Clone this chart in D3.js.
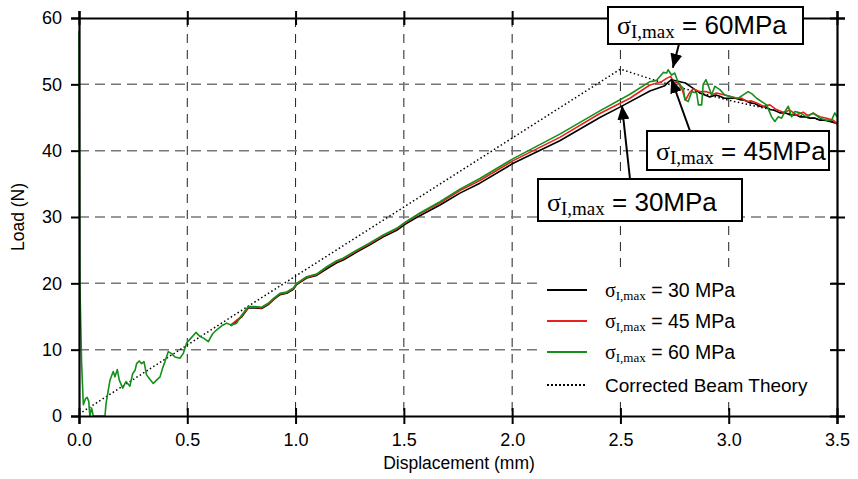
<!DOCTYPE html>
<html>
<head>
<meta charset="utf-8">
<script src="https://cdn.jsdelivr.net/npm/d3@7"></script>
<style>
  body { margin: 0; background: #fff; }
  text { font-family: Arial, "Liberation Sans", sans-serif; fill: #000; }
</style>
</head>
<body>
<script>
// tick values
var xTicks = [0, 0.5, 1.0, 1.5, 2.0, 2.5, 3.0, 3.5];
var yTicks = [0, 10, 20, 30, 40, 50, 60];

// load-displacement curves, [displacement mm, load N]
var curve30 = [
  [0.70,13.6],[0.75,14.9],[0.782,16.3],[0.813,16.3],[0.843,16.2],[0.874,16.8],[0.897,17.5],
  [0.928,18.3],[0.959,18.5],[0.99,19.1],[1.005,19.8],[1.051,20.8],[1.097,21.2],[1.144,22.2],
  [1.19,23.1],[1.22,23.5],[1.282,24.7],[1.343,25.8],[1.405,27.0],[1.467,28.0],[1.505,28.9],
  [1.574,30.2],[1.667,31.8],[1.759,33.6],[1.851,35.1],[2.005,38.1],[2.22,41.5],[2.405,45.0],
  [2.5,46.6],[2.636,49.0],[2.705,49.8],[2.72,50.3],[2.736,50.7],[2.775,50.4],[2.80,50.2],
  [2.836,49.4],[2.867,48.7],[2.913,48.1],[2.94,48.4],[2.959,48.2],[2.98,47.9],[3.005,47.9],
  [3.03,47.9],[3.051,47.7],[3.075,47.6],[3.098,47.2],[3.12,47.1],[3.144,46.7],[3.17,46.6],
  [3.19,46.2],[3.21,46.1],[3.236,45.7],[3.26,45.7],[3.282,45.4],[3.31,45.4],[3.329,45.1],
  [3.35,45.1],[3.375,44.9],[3.40,44.9],[3.421,44.6],[3.445,44.6],[3.467,44.4],[3.5,44.1]
];
var curve45 = [
  [0.70,13.7],[0.75,15.0],[0.782,16.4],[0.813,16.4],[0.843,16.3],[0.874,16.9],[0.897,17.6],
  [0.928,18.4],[0.959,18.6],[0.99,19.2],[1.005,19.9],[1.051,20.9],[1.097,21.3],[1.144,22.4],
  [1.19,23.3],[1.22,23.7],[1.282,24.9],[1.343,26.0],[1.405,27.2],[1.467,28.2],[1.505,29.1],
  [1.574,30.5],[1.667,32.1],[1.759,34.0],[1.851,35.5],[2.005,38.5],[2.22,42.0],[2.405,45.6],
  [2.544,47.9],[2.636,49.9],[2.69,50.4],[2.713,50.9],[2.732,51.2],[2.744,50.4],[2.767,50.2],
  [2.785,49.2],[2.80,47.6],[2.82,48.8],[2.836,49.3],[2.867,48.9],[2.898,48.9],[2.93,48.5],
  [2.944,48.7],[2.982,48.4],[3.005,48.2],[3.036,47.9],[3.06,47.9],[3.082,47.4],[3.105,47.5],
  [3.129,47.2],[3.16,46.7],[3.19,46.9],[3.22,46.2],[3.251,45.8],[3.282,46.1],[3.313,45.4],
  [3.344,45.8],[3.365,45.3],[3.39,45.6],[3.421,45.1],[3.452,44.9],[3.483,44.6],[3.5,44.0]
];
var curve60 = [
  [0,58],[0.004,20],[0.012,8],[0.02,1.7],[0.03,2.6],[0.038,2.8],[0.045,2.2],[0.05,0],
  [0.058,1.2],[0.066,0],[0.12,0],[0.125,1.9],[0.143,5.4],[0.158,6.7],[0.166,5.9],[0.177,7.0],
  [0.186,5.4],[0.202,4.2],[0.217,5.2],[0.235,4.5],[0.248,6.4],[0.259,6.9],[0.266,7.9],
  [0.278,8.3],[0.289,7.9],[0.300,8.2],[0.312,6.2],[0.328,5.5],[0.343,4.9],[0.358,5.4],
  [0.374,5.9],[0.386,7.2],[0.397,8.2],[0.412,9.7],[0.428,9.4],[0.443,8.9],[0.466,8.7],
  [0.481,9.4],[0.497,11.0],[0.516,11.7],[0.540,12.6],[0.558,12.0],[0.577,11.7],[0.597,11.2],
  [0.617,12.4],[0.636,13.0],[0.659,13.6],[0.682,14.0],[0.705,13.7],[0.728,14.0],[0.751,15.2],
  [0.782,16.5],[0.813,16.5],[0.843,16.4],[0.874,17.0],[0.897,17.7],[0.928,18.5],[0.959,18.7],
  [0.99,19.3],[1.005,20.0],[1.051,21.0],[1.097,21.4],[1.144,22.5],[1.19,23.4],[1.22,23.8],
  [1.282,25.0],[1.343,26.1],[1.405,27.3],[1.467,28.3],[1.505,29.2],[1.574,30.6],[1.667,32.3],
  [1.759,34.2],[1.851,35.8],[2.005,38.8],[2.22,42.5],[2.405,46.0],[2.544,48.5],[2.636,50.4],
  [2.667,50.6],[2.698,51.8],[2.713,51.7],[2.72,52.2],[2.736,51.4],[2.751,51.7],[2.767,50.2],
  [2.79,49.4],[2.798,47.7],[2.813,47.4],[2.829,48.9],[2.852,48.7],[2.86,46.9],[2.875,46.9],
  [2.882,50.0],[2.895,50.7],[2.91,49.4],[2.921,48.4],[2.936,49.7],[2.959,49.2],[2.982,48.4],
  [3.013,48.1],[3.044,47.9],[3.067,48.4],[3.09,48.9],[3.106,48.6],[3.129,47.9],[3.152,47.4],
  [3.175,46.9],[3.198,45.1],[3.213,44.4],[3.229,45.1],[3.244,44.9],[3.26,45.9],[3.275,46.7],
  [3.29,45.1],[3.306,45.9],[3.329,45.7],[3.36,45.1],[3.39,45.7],[3.421,44.9],[3.452,44.6],
  [3.475,44.6],[3.49,45.7],[3.5,45.1]
];
var beamTheory = [[0,0.3],[2.5,52.3],[2.66,50.6],[2.8,49.3],[3.0,47.6],[3.25,45.8],[3.5,44.2]];

var legendLabels = ["30 MPa", "45 MPa", "60 MPa"];
var seriesColors = ["#000000", "#e8221a", "#14901a"];

// call-outs: label and the point the arrow touches (data units)
var calloutLabels = ["60MPa", "45MPa", "30MPa"];
var calloutTips = [[2.742, 52.5], [2.735, 50.8], [2.507, 46.8]];

var margin = {top: 18, right: 21, bottom: 63, left: 79},
    width = 858 - margin.left - margin.right,
    height = 479 - margin.top - margin.bottom;

var svg = d3.select("body").append("svg")
    .attr("width", 858)
    .attr("height", 479);

var g = svg.append("g")
    .attr("transform", "translate(" + margin.left + "," + margin.top + ")");

var x = d3.scaleLinear().domain([0, 3.5]).range([0, width]);
var y = d3.scaleLinear().domain([0, 60]).range([height, 0]);

// grid
g.selectAll(".vgrid")
    .data(xTicks.slice(1, -1))
    .enter().append("line")
    .attr("x1", function(d) { return x(d); })
    .attr("x2", function(d) { return x(d); })
    .attr("y1", 0).attr("y2", height)
    .attr("stroke", "#222").attr("stroke-width", 1)
    .attr("stroke-dasharray", "9,7");
g.selectAll(".hgrid")
    .data(yTicks.slice(1, -1))
    .enter().append("line")
    .attr("x1", 0).attr("x2", width)
    .attr("y1", function(d) { return y(d); })
    .attr("y2", function(d) { return y(d); })
    .attr("stroke", "#777").attr("stroke-width", 1.5)
    .attr("stroke-dasharray", "10,6");

// legend background hides the grid
g.append("rect")
    .attr("x", 538 - margin.left).attr("y", 272 - margin.top)
    .attr("width", 288).attr("height", 130)
    .attr("fill", "#fff");

svg.append("defs").append("clipPath").attr("id", "plotclip")
    .append("rect").attr("x", -1).attr("y", -1).attr("width", width + 2).attr("height", height + 2);

var line = d3.line()
    .x(function(d) { return x(d[0]); })
    .y(function(d) { return y(d[1]); });

var curves = g.append("g").attr("clip-path", "url(#plotclip)");
curves.append("path").datum(beamTheory)
    .attr("d", line).attr("fill", "none")
    .attr("stroke", "#000").attr("stroke-width", 1.5).attr("stroke-dasharray", "1.5,2.5");
[curve30, curve45, curve60].forEach(function(c, i) {
  curves.append("path").datum(c)
      .attr("d", line).attr("fill", "none")
      .attr("stroke", seriesColors[i]).attr("stroke-width", 1.6)
      .attr("stroke-linejoin", "round");
});

// axes: bottom / left with labels, top / right as frame
var fmtX = d3.format(".1f");
var xAxis = g.append("g")
    .attr("transform", "translate(0," + height + ")")
    .call(d3.axisBottom(x).tickValues(xTicks).tickFormat(fmtX).tickSize(8).tickPadding(9));
xAxis.selectAll(".tick line").attr("y1", -8);
var yAxis = g.append("g")
    .call(d3.axisLeft(y).tickValues(yTicks).tickSize(8).tickPadding(9));
var topAxis = g.append("g")
    .call(d3.axisTop(x).tickValues(xTicks).tickFormat("").tickSize(7));
topAxis.selectAll(".tick line").attr("y1", 7);
var rightAxis = g.append("g")
    .attr("transform", "translate(" + width + ",0)")
    .call(d3.axisRight(y).tickValues(yTicks).tickFormat("").tickSize(8));
rightAxis.selectAll(".tick line").attr("x1", -7);

[xAxis, yAxis, topAxis, rightAxis].forEach(function(a) {
  a.select(".domain").attr("stroke", "#000").attr("stroke-width", 2.2);
  a.selectAll(".tick line").attr("stroke", "#000").attr("stroke-width", 2);
  a.selectAll(".tick text")
      .style("font-family", "Arial, 'Liberation Sans', sans-serif")
      .style("font-size", "18px").attr("fill", "#000");
});

// axis titles
svg.append("text")
    .attr("x", margin.left + width / 2 + 1).attr("y", 469)
    .attr("text-anchor", "middle")
    .style("font-size", "17.5px")
    .text("Displacement (mm)");
svg.append("text")
    .attr("transform", "translate(24," + (margin.top + height / 2) + ") rotate(-90)")
    .attr("text-anchor", "middle")
    .style("font-size", "17.5px")
    .text("Load (N)");

// sigma label helper
function sigmaText(sel, sigSize, subSize, restSize, shift, rest) {
  sel.append("tspan")
      .style("font-family", "'Times New Roman', 'Liberation Serif', serif")
      .style("font-size", sigSize + "px").text("σ");
  sel.append("tspan")
      .style("font-family", "'Times New Roman', 'Liberation Serif', serif")
      .style("font-size", subSize + "px").attr("dy", shift).text("I,max");
  sel.append("tspan")
      .style("font-size", restSize + "px").attr("dy", -shift).text(rest);
}

// legend
var legend = svg.append("g");
legendLabels.forEach(function(lab, i) {
  var ly = 290 + i * 31;
  legend.append("line")
      .attr("x1", 547).attr("x2", 587).attr("y1", ly).attr("y2", ly)
      .attr("stroke", seriesColors[i]).attr("stroke-width", 2);
  sigmaText(legend.append("text").attr("x", 605).attr("y", ly + 7), 20, 13, 19.5, 3, " = " + lab);
});
legend.append("line")
    .attr("x1", 547).attr("x2", 587).attr("y1", 385).attr("y2", 385)
    .attr("stroke", "#000").attr("stroke-width", 2).attr("stroke-dasharray", "2,2");
legend.append("text").attr("x", 605).attr("y", 392)
    .style("font-size", "19px").text("Corrected Beam Theory");

// call-out boxes with arrows
var defs = svg.select("defs");
defs.append("marker")
    .attr("id", "arrow").attr("viewBox", "0 0 14 12")
    .attr("refX", 14).attr("refY", 6)
    .attr("markerWidth", 14).attr("markerHeight", 12)
    .attr("markerUnits", "userSpaceOnUse").attr("orient", "auto")
    .append("path").attr("d", "M0,0 L14,6 L0,12 Z").attr("fill", "#000");

var boxes = [
  {x: 608, y: 7, w: 195, h: 37, ax: 679, ay: 44},
  {x: 647, y: 131, w: 182, h: 39, ax: 690, ay: 131},
  {x: 538, y: 179, w: 204, h: 42, ax: 630, ay: 179}
];
calloutLabels.forEach(function(lab, i) {
  var b = boxes[i];
  svg.append("line")
      .attr("x1", b.ax).attr("y1", b.ay)
      .attr("x2", x(calloutTips[i][0]) + margin.left)
      .attr("y2", y(calloutTips[i][1]) + margin.top)
      .attr("stroke", "#000").attr("stroke-width", 2)
      .attr("marker-end", "url(#arrow)");
  svg.append("rect")
      .attr("x", b.x).attr("y", b.y).attr("width", b.w).attr("height", b.h)
      .attr("fill", "#fff").attr("stroke", "#000").attr("stroke-width", 2);
  sigmaText(svg.append("text").attr("x", b.x + 9).attr("y", b.y + b.h - 10), 26, 19, 26, 4, " = " + lab);
});
</script>
</body>
</html>
